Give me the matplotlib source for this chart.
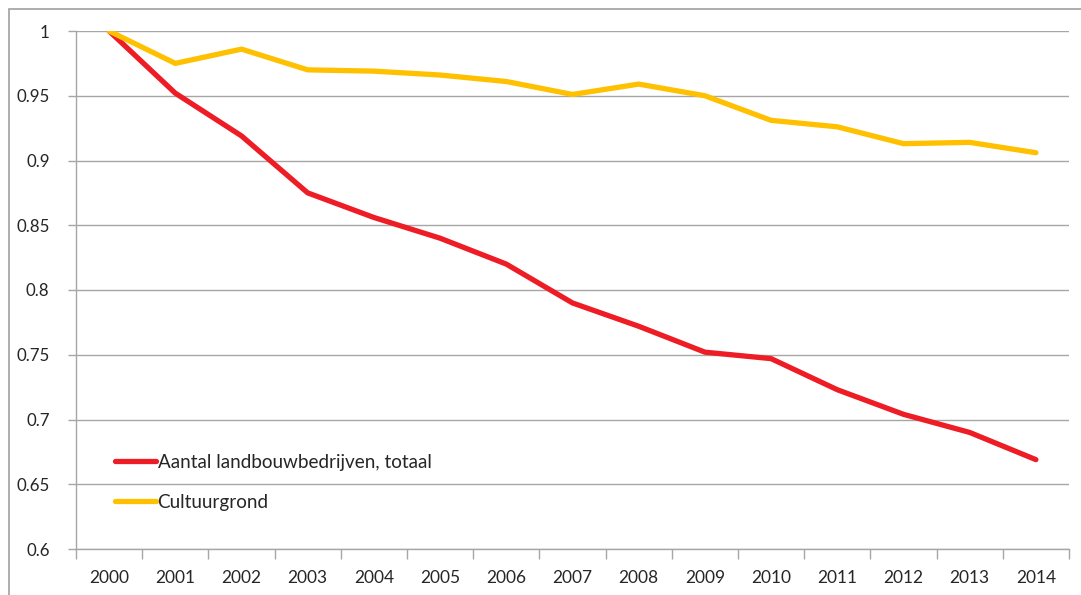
import matplotlib
matplotlib.use("Agg")
import matplotlib.pyplot as plt
from matplotlib.patches import Rectangle
import numpy as np

years = ["2000", "2001", "2002", "2003", "2004", "2005", "2006", "2007",
         "2008", "2009", "2010", "2011", "2012", "2013", "2014"]
bedrijven = [1.0, 0.952, 0.919, 0.875, 0.856, 0.840, 0.820, 0.790,
             0.772, 0.752, 0.747, 0.723, 0.704, 0.690, 0.669]
cultuurgrond = [1.0, 0.975, 0.986, 0.970, 0.969, 0.966, 0.961, 0.951,
                0.959, 0.950, 0.931, 0.926, 0.913, 0.914, 0.906]
yticks = [0.6, 0.65, 0.7, 0.75, 0.8, 0.85, 0.9, 0.95, 1.0]
ylabels = ["0.6", "0.65", "0.7", "0.75", "0.8", "0.85", "0.9", "0.95", "1"]

plt.rcParams['font.family'] = ['Lato', 'DejaVu Sans']
W, H = 1081, 595
fig = plt.figure(figsize=(W / 100, H / 100), dpi=100)

# outer chart frame
fig.patches.append(Rectangle((9 / W, -0.1), 1.2, 1 - 9 / H + 0.1, transform=fig.transFigure,
                             fill=False, edgecolor="#A0A0A0", linewidth=1.2))

ax = fig.add_axes([76 / W, 1 - 549 / H, (1069 - 76) / W, (549 - 31) / H])
x = np.arange(len(years))
grid_c = "#A6A6A6"
text_c = "#262626"

ax.plot(x, bedrijven, color="#EE1C25", lw=3.8, solid_capstyle="round",
        solid_joinstyle="round", label="Aantal landbouwbedrijven, totaal", zorder=3)
ax.plot(x, cultuurgrond, color="#FFC000", lw=3.8, solid_capstyle="round",
        solid_joinstyle="round", label="Cultuurgrond", zorder=3)

ax.set_xlim(-0.5, len(years) - 0.5)
ax.set_ylim(0.6, 1.0)
ax.set_yticks(yticks)
ax.set_yticklabels(ylabels)
ax.yaxis.grid(True, color=grid_c, lw=1)
ax.set_axisbelow(True)

ax.set_xticks(np.arange(-0.5, len(years), 1.0))
ax.set_xticklabels([])
ax.set_xticks(x, minor=True)
ax.set_xticklabels(years, minor=True)
ax.tick_params(axis="x", which="major", length=7, color=grid_c, width=1)
ax.tick_params(axis="x", which="minor", length=0, pad=15, labelsize=12.5, labelcolor=text_c)
ax.tick_params(axis="y", length=6, color=grid_c, width=1, pad=13, labelsize=12.2, labelcolor=text_c)

for s in ["top", "right"]:
    ax.spines[s].set_visible(False)
for s in ["left", "bottom"]:
    ax.spines[s].set_color(grid_c)
    ax.spines[s].set_linewidth(1)

leg = ax.legend(loc="upper left", bbox_to_anchor=(39 / 993, 1 - (454 - 31) / 518),
                frameon=False, fontsize=13.6, handlelength=2.15, handletextpad=0.1,
                labelspacing=1.2, borderaxespad=0, borderpad=0)
for t in leg.get_texts():
    t.set_color(text_c)

fig.savefig("out.png", dpi=100)
